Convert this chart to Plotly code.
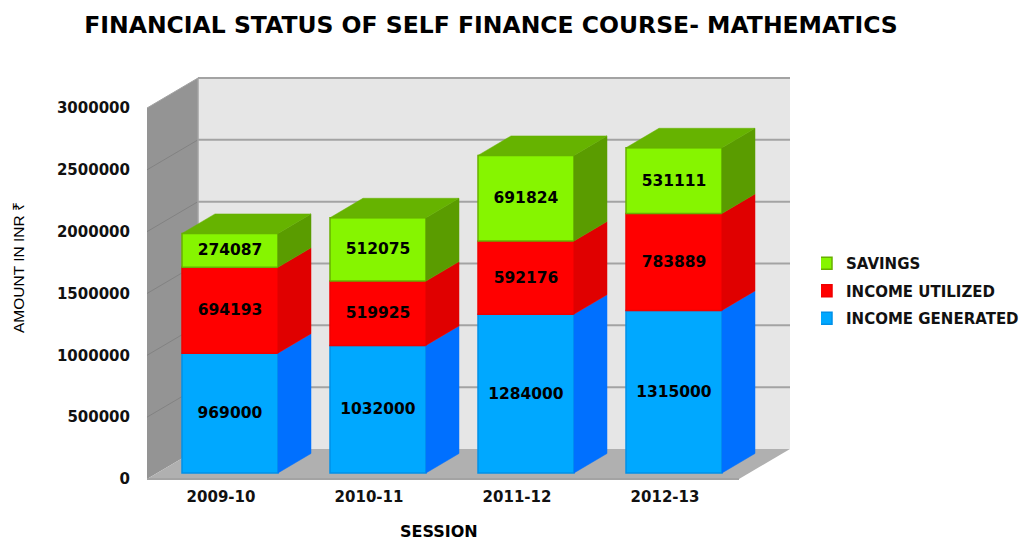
import plotly.graph_objects as go

# ---- data ----
sessions = ["2009-10", "2010-11", "2011-12", "2012-13"]
income_generated = [969000, 1032000, 1284000, 1315000]
income_utilized = [694193, 519925, 592176, 783889]
savings = [274087, 512075, 691824, 531111]
y_ticks = [0, 500000, 1000000, 1500000, 2000000, 2500000, 3000000]

# ---- pixel geometry of the pseudo-3D box ----
W, H = 1027, 540
PL, PR, PT, PB = 147, 791, 76, 480       # plot rectangle in pixels
Y_ZERO_PX = 479
PX_PER_CAT = 148.0
PX_PER_VAL = 371.0 / 3000000
def dxp(px): return px / PX_PER_CAT
def dyp(px): return px / PX_PER_VAL

X0 = -0.5
X1 = X0 + dxp(PR - PL)
Y_BOTTOM = -dyp(PB - Y_ZERO_PX)
Y_RANGE_TOP = dyp(Y_ZERO_PX - PT)
WALL_DX, WALL_DY = dxp(51), dyp(30)
WALL_TOP = y_ticks[-1] + WALL_DY
WALL_R = X0 + dxp(643)
FRONT_END = 3.5
BAR_W = dxp(96)
BAR_SHIFT_X, BAR_SHIFT_Y = dxp(9), dyp(6)
DEPTH_X, DEPTH_Y = dxp(33), dyp(19.5)

FONT = "DejaVu Sans"
GRID = "#a3a3a3"

series = [
    ("INCOME GENERATED", income_generated, "#00A8FF", "#0070FF", "#0090E8", 3),
    ("INCOME UTILIZED", income_utilized, "#FF0000", "#E00000", "#F00000", 2),
    ("SAVINGS", savings, "#86F500", "#5A9C00", "#68B000", 1),
]
TOP_FACE = "#66B300"

fig = go.Figure()
xpos = [i + BAR_SHIFT_X for i in range(len(sessions))]
bases = [BAR_SHIFT_Y] * len(sessions)

for name, vals, front, side, edge, rank in series:
    fig.add_trace(go.Bar(
        x=xpos, y=vals, base=bases, width=BAR_W, name=name,
        legendgroup=name, legendrank=rank,
        marker=dict(color=front, line=dict(color=edge, width=1.5)),
        text=[str(v) for v in vals], textposition="inside",
        insidetextanchor="middle", textangle=0, constraintext="none",
        textfont=dict(family=FONT, size=15.5, color="#000000", weight="bold"),
    ))
    sx, sy = [], []
    for x, b, v in zip(xpos, bases, vals):
        xr = x + BAR_W / 2
        sx += [xr, xr + DEPTH_X, xr + DEPTH_X, xr, xr, None]
        sy += [b, b + DEPTH_Y, b + v + DEPTH_Y, b + v, b, None]
    fig.add_trace(go.Scatter(x=sx, y=sy, mode="lines", fill="toself", fillcolor=side,
                             line=dict(color=side, width=0.5), showlegend=False, hoverinfo="skip"))
    bases = [b + v for b, v in zip(bases, vals)]

tx, ty = [], []
for x, t in zip(xpos, bases):
    xl, xr = x - BAR_W / 2, x + BAR_W / 2
    tx += [xl, xr, xr + DEPTH_X, xl + DEPTH_X, xl, None]
    ty += [t, t, t + DEPTH_Y, t + DEPTH_Y, t, None]
fig.add_trace(go.Scatter(x=tx, y=ty, mode="lines", fill="toself", fillcolor=TOP_FACE,
                         line=dict(color=TOP_FACE, width=0.5), showlegend=False, hoverinfo="skip"))

def poly(pts):
    return "M " + " L ".join(f"{x} {y}" for x, y in pts) + " Z"

shapes = [
    dict(type="path", layer="below", line=dict(width=0), fillcolor="#E6E6E6",
         path=poly([(X0 + WALL_DX, WALL_DY), (WALL_R, WALL_DY), (WALL_R, WALL_TOP), (X0 + WALL_DX, WALL_TOP)])),
    dict(type="path", layer="below", line=dict(width=0), fillcolor="#949494",
         path=poly([(X0, 0), (X0 + WALL_DX, WALL_DY), (X0 + WALL_DX, WALL_TOP), (X0, y_ticks[-1])])),
    dict(type="path", layer="below", line=dict(width=0), fillcolor="#B0B0B0",
         path=poly([(X0, 0), (FRONT_END, 0), (WALL_R, WALL_DY), (X0 + WALL_DX, WALL_DY)])),
]
for t in y_ticks:
    if t > 0:
        shapes.append(dict(type="line", layer="below", line=dict(color=GRID, width=2),
                           x0=X0 + WALL_DX, x1=WALL_R, y0=t + WALL_DY, y1=t + WALL_DY))
        shapes.append(dict(type="line", layer="below",
                           line=dict(color=GRID if t == y_ticks[-1] else "#828282", width=1),
                           x0=X0, x1=X0 + WALL_DX, y0=t, y1=t + WALL_DY))
shapes.append(dict(type="line", layer="below", line=dict(color=GRID, width=2),
                   x0=X0, x1=FRONT_END, y0=0, y1=0))
shapes.append(dict(type="line", layer="below", line=dict(color=GRID, width=1.5),
                   x0=X0 + WALL_DX, x1=X0 + WALL_DX, y0=WALL_DY, y1=WALL_TOP))

tickfont = dict(family=FONT, size=15, color="#111111", weight="bold")
annotations = [
    dict(text="SESSION", xref="paper", yref="paper", showarrow=False,
         x=(439 - PL) / (PR - PL), y=(PB - 531) / (PB - PT), xanchor="center", yanchor="middle",
         font=dict(family=FONT, size=16, color="#000000", weight="bold")),
    dict(text="AMOUNT IN INR ₹", xref="paper", yref="paper", showarrow=False, textangle=-90,
         x=(18 - PL) / (PR - PL), y=(PB - 268) / (PB - PT), xanchor="center", yanchor="middle",
         font=dict(family="Liberation Sans", size=15.5, color="#000000")),
]
fig.update_layout(
    width=W, height=H, autosize=False,
    margin=dict(l=PL, r=W - PR, t=PT, b=H - PB, pad=0, autoexpand=False),
    paper_bgcolor="white", plot_bgcolor="white",
    barmode="overlay", showlegend=True, shapes=shapes, annotations=annotations,
    title=dict(text="FINANCIAL STATUS OF SELF FINANCE COURSE- MATHEMATICS",
               x=491 / W, xanchor="center", y=1 - 25 / H, yanchor="middle",
               font=dict(family=FONT, size=23.5, color="#000000", weight="bold")),
    xaxis=dict(range=[X0, X1], tickvals=list(range(len(sessions))), ticktext=sessions,
               showgrid=False, zeroline=False, showline=False, ticks="", tickfont=tickfont,
               ticklabelstandoff=6, automargin=False),
    yaxis=dict(range=[Y_BOTTOM, Y_RANGE_TOP], tickvals=y_ticks, showgrid=False, zeroline=False, showline=False,
               ticks="", tickfont=tickfont, ticklabelstandoff=16, tickformat="d", automargin=False),
    legend=dict(xref="container", yref="container", x=821 / W, xanchor="left", y=1 - 247 / H, yanchor="top",
                traceorder="grouped", tracegroupgap=5, itemwidth=30, indentation=-15,
                font=dict(family=FONT, size=15, color="#111111", weight="bold"),
                bgcolor="rgba(0,0,0,0)"),
)
fig.write_html("out.html", config={"displayModeBar": False},
               post_script="document.body.style.margin='0';")
